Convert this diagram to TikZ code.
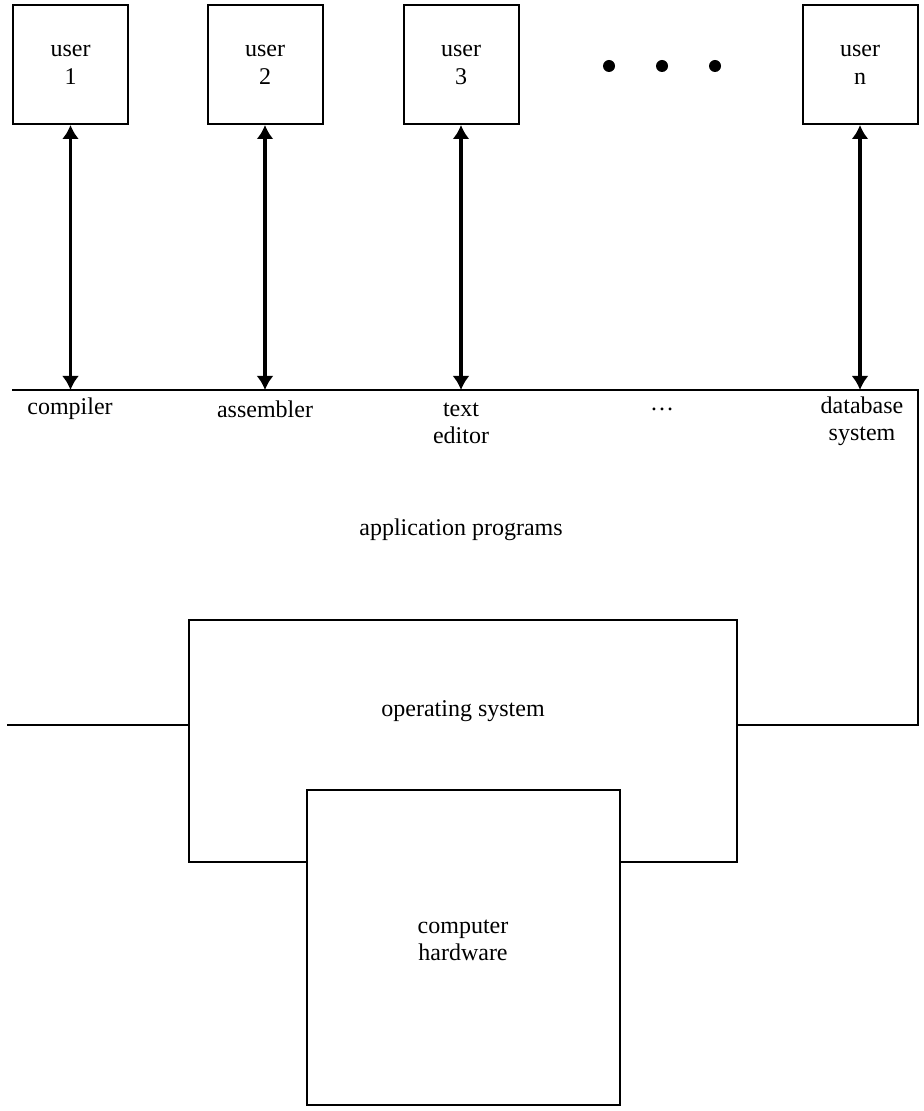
\documentclass[tikz,border=0pt]{standalone}
\usepackage{fontspec}
\setmainfont{Liberation Serif}
\usetikzlibrary{arrows.meta,shapes}
\tikzstyle{ubox}=[rectangle,draw=black,line width=1pt,minimum width=57.5pt,minimum height=59.5pt,align=center,font=\fontsize{12}{14}\selectfont]
\tikzstyle{lyr}=[rectangle,draw=black,line width=1pt,fill=white,inner sep=0pt]
\tikzstyle{lbl}=[align=center,font=\fontsize{12}{13.5}\selectfont]
\tikzstyle{dot}=[circle,fill=black,inner sep=0pt,minimum size=6pt]
\tikzstyle{uarrow}=[{Latex[length=7pt,width=8.5pt]}-{Latex[length=7pt,width=8.5pt]},line width=1.8pt]

\begin{document}
\begin{tikzpicture}[x=0.5pt,y=-0.5pt,line width=1pt]
\useasboundingbox (0,0) rectangle (924,1111);
\node[ubox] (U1) at (70.5,64.5) {user\\1};
\node[ubox] (U2) at (265,64.5) {user\\2};
\node[ubox] (U3) at (461,64.5) {user\\3};
\node[ubox] (Un) at (860,64.5) {user\\n};
\node[dot] (d1) at (609,66) {};
\node[dot] (d2) at (662,66) {};
\node[dot] (d3) at (715,66) {};
\coordinate (aL) at (12,390);\coordinate (aR) at (918,390);
\coordinate (aB) at (918,725);\coordinate (oL) at (7,725);
\node[lyr,minimum width=274pt,minimum height=121pt] (OS) at (463,741) {};
\node[lyr,minimum width=156.5pt,minimum height=157.5pt] (HW) at (463.5,947.5) {};
\node[lbl] (comp) at (70,409) {compiler};
\node[lbl] (asm) at (265,409) {assembler};
\node[lbl] (ted) at (461,423) {text\\editor};
\node[lbl] (etc) at (662,409) {\ldots};
\node[lbl] (dbs) at (862,421) {database\\system};
\node[lbl] (app) at (461,530) {application programs};
\node[lbl] (OSl) at (463,711) {operating system};
\node[lbl] (HWl) at (463,940) {computer\\hardware};
\draw(aL)--(aR)--(aB)--(OS.east |- aB);\draw(oL)--(OS.west |- oL);
\draw[uarrow](U1)--(U1 |- aL);\draw[uarrow](U2)--(U2 |- aL);
\draw[uarrow](U3)--(U3 |- aL);\draw[uarrow](Un)--(Un |- aL);
\end{tikzpicture}
\end{document}
